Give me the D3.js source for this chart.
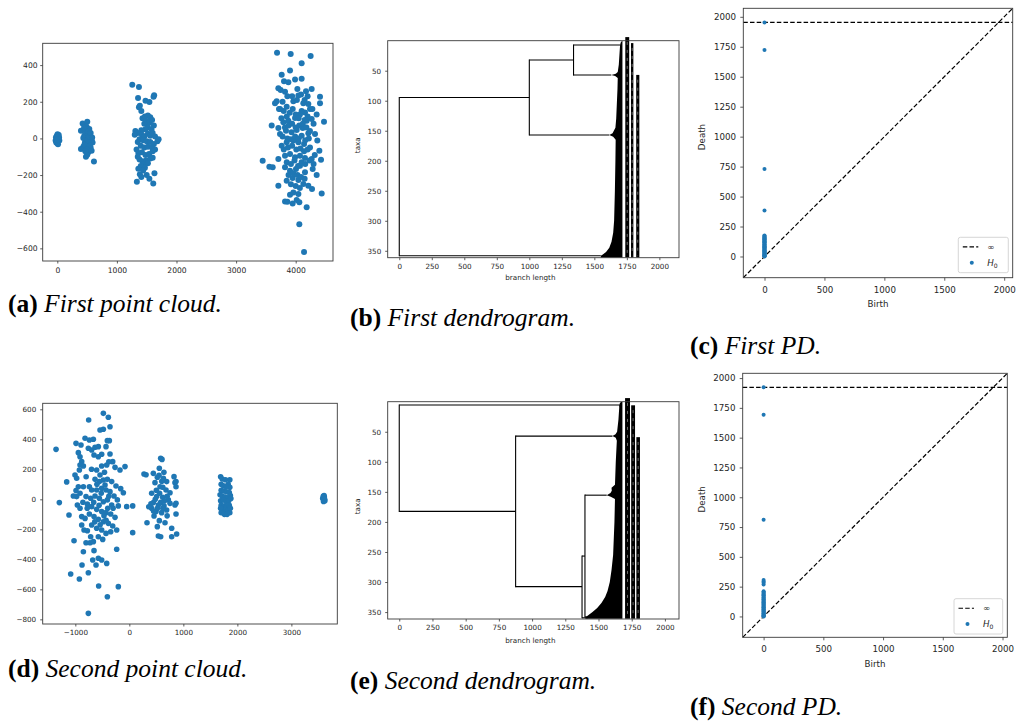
<!DOCTYPE html>
<html>
<head>
<meta charset="utf-8">
<script src="https://cdn.jsdelivr.net/npm/d3@7"></script>
<style>
  body { margin: 0; background: #fff; }
  svg { display: block; }
</style>
</head>
<body>
<svg id="fig" width="1020" height="722"></svg>
<script>
// ---------------------------------------------------------------
// Data
// ---------------------------------------------------------------

// First point cloud: four groups of 2-D points
const cloud1_g0 = [[-28,-12],[-18,-22],[-6,14],[4,22],[18,12],[30,4],[14,-6],[-12,2],[0,-26],[12,-32],[24,18],[-22,6],[34,-12],[6,8],[-4,-8]];
const cloud1_g1 = [[425,82],[503,91],[397,42],[464,46],[503,33],[548,24],[453,15],[520,5],[576,-9],[481,-13],[537,-31],[436,-46],[397,-58],[503,-53],[559,-49],[520,-76],[481,-100],[503,-89],[615,-126],[576,-67],[464,-22],[548,-4],[592,-22],[492,64],[537,51],[436,2],[526,-22],[481,-35],[470,20],[510,-10],[490,30],[530,10],[455,-35],[545,-40],[500,-60],[520,40],[560,30],[585,5],[470,-70],[450,60]];
const cloud1_g2 = [[1258,293],[1370,280],[1355,220],[1480,205],[1545,198],[1615,228],[1625,235],[1370,170],[1410,150],[1385,178],
  [1430,110],[1470,120],[1520,125],[1560,115],[1500,95],[1545,85],[1590,100],[1460,80],[1520,60],[1620,70],[1580,50],[1480,50],[1410,45],[1310,40],[1350,30],[1300,20],[1420,20],[1460,10],[1520,25],[1560,15],[1600,30],[1640,10],[1700,-5],[1680,-15],[1380,-5],[1440,-10],[1500,-15],[1560,-20],[1620,-30],[1350,-20],[1400,-40],[1460,-50],[1520,-45],[1590,-50],[1640,-60],[1330,-60],[1360,-80],[1420,-75],[1480,-90],[1540,-85],[1600,-70],[1350,-100],[1380,-115],[1430,-125],[1490,-120],[1560,-110],[1600,-105],[1450,-140],[1520,-135],[1400,-150],[1470,-160],
  [1360,-165],[1385,-195],[1440,-175],[1545,-220],[1630,-190],[1335,-237],[1610,-246],[1500,-200],[1410,-210]];
const cloud1_g3 = [[3687,467],[3916,461],[4251,450],[4100,410],[3765,348],[3905,370],[3804,312],[3877,306],[3989,321],[4100,325],[3709,274],[3748,264],[3821,255],[4028,270],[4173,257],[4268,270],[4408,228],[4408,192],[4475,91],[3653,192],[3681,203],[3737,161],[3849,173],[3961,203],[4045,234],[4128,192],[4212,188],[4240,161],[4352,130],[3597,70],[3709,57],[3793,88],[3877,97],[3989,111],[4072,130],[4156,142],[4184,97],[4268,106],[3737,24],[3837,42],[3931,33],[4017,46],[4117,57],[4212,28],[4324,24],[4363,-12],[3765,-40],[3849,-21],[3961,-12],[4045,-21],[4140,-30],[4240,-49],[4397,-67],[3709,-112],[3821,-94],[3905,-85],[3989,-103],[4072,-94],[4156,-107],[4268,-112],[4425,-116],[3446,-122],[3558,-154],[3614,-158],[3821,-158],[3905,-176],[4005,-167],[4072,-149],[4156,-185],[4285,-167],[4352,-200],[3709,-258],[3849,-231],[3949,-216],[4045,-227],[4128,-249],[4212,-258],[4274,-276],[4436,-300],[3821,-344],[3860,-346],[3949,-355],[4017,-336],[4061,-349],[4184,-376],[4061,-468],[4140,-620],[3961,-295],[4045,-304],[3905,-307],
  [3800,150],[3850,120],[3900,140],[3950,160],[4000,130],[4050,110],[4100,150],[4150,100],[4200,120],[3820,60],[3880,70],[3940,80],[4000,60],[4060,70],[4120,80],[4180,60],[4240,40],[3780,10],[3860,0],[3920,-5],[3990,10],[4050,0],[4100,15],[4160,-10],[4220,0],[3800,-60],[3870,-50],[3940,-40],[4010,-60],[4080,-55],[4140,-70],[4200,-60],[3850,-130],[3920,-140],[3980,-120],[4040,-150],[4100,-130],[4160,-140],[4230,-120],[3880,-200],[3960,-190],[4030,-200],[4090,-210],[4150,-220],[4000,-260],[4070,-270],[3920,-250],[3860,230],[3940,230],[4020,210],[4090,240],[4150,210],[4200,230],[3780,200],[3760,110],[3720,160],[4300,80],[4280,160],[4320,-90],[4300,-140]];

// Second point cloud: four groups of 2-D points
const cloud2_g0 = [[-1357,333],[-1296,-22],[-1160,116],[-1117,-104],[-1024,-276],[-1086,-498],[-925,-531],[-876,-438],[-851,-349],[-759,-760],[-759,-489],[-753,529],[-481,573],[-389,547],[-358,484],[-407,-649],[-204,-582],[-568,-578],[-234,-333],[-80,218],[-173,195],[-49,-49],[62,-44],[62,-222],[-204,-44],
  [-987,373],[-895,362],[-944,311],[-913,284],[-882,251],[-913,229],[-851,222],[-925,195],[-1006,162],[-975,140],[-944,84],[-851,84],[-913,40],[-962,-38],[-913,-60],[-882,-115],[-820,-127],[-882,-171],[-839,-204],[-777,-209],[-802,-289],[-728,-289],[-716,-249],[-666,-282],[-820,407],[-740,395],[-666,400],[-759,340],[-697,329],[-635,347],[-574,351],[-654,295],[-574,284],[-512,300],[-543,462],[-481,467],[-407,391],[-370,391],[-432,351],[-358,302],[-308,251],[-265,213],[-419,229],[-512,222],[-605,195],[-543,162],[-635,133],[-555,118],[-481,129],[-407,133],[-327,118],[-247,89],[-160,71],[-111,44],[-740,84],[-697,62],[-605,62],[-512,73],[-432,62],[-358,51],[-284,22],[-222,-4],[-802,18],[-716,7],[-635,22],[-555,7],[-481,-16],[-407,-4],[-327,-38],[-777,-31],[-697,-49],[-605,-67],[-512,-82],[-432,-89],[-345,-98],[-265,-120],[-740,-98],[-654,-115],[-574,-133],[-481,-149],[-389,-160],[-308,-178],[-234,-204],[-697,-171],[-605,-193],[-512,-204],[-432,-227],[-345,-216],[-574,-249],[-493,-267],[-654,-342],[-574,-393],[-512,-404],[-419,-427],[-617,-438],[-678,-404],[-975,18],[-987,58],[-1036,22],
  [-600,100],[-520,40],[-450,95],[-380,20],[-660,-20],[-560,-40],[-470,-110],[-400,-60],[-300,-60],[-640,-150],[-540,-170],[-430,-140],[-700,200],[-460,180],[-380,250],[-800,150],[-780,-60],[-860,-20]];
const cloud2_g1 = [[580,273],[605,266],[555,207],[444,173],[518,147],[630,140],[691,118],[845,111],[864,84],[475,111],[568,84],[679,62],[753,44],[413,40],[506,18],[617,13],[722,-4],[845,-38],[444,-22],[537,-38],[642,-44],[753,-27],[413,-60],[494,-82],[598,-89],[691,-71],[864,-98],[457,-111],[555,-142],[660,-156],[518,-182],[784,-193],[876,-231],[784,-249],[537,-244],[580,-249],
  [271,169],[309,164],[327,-156],[864,-27],[864,118],[827,151],[500,60],[560,40],[620,80],[700,20],[650,-10],[580,-20],[520,-60],[620,-60],[700,-110],[480,0],[400,-30],[360,-50],[450,-80],[600,120],[550,160],[640,180]];
const cloud2_g2 = [[1690,150],[1720,135],[1780,130],[1830,100],[1860,80],[1700,100],[1740,90],[1790,85],[1700,60],[1750,55],[1800,50],[1850,45],[1680,30],[1720,20],[1770,15],[1820,10],[1870,25],[1690,-10],[1740,-5],[1790,-15],[1840,-10],[1880,5],[1700,-40],[1750,-45],[1800,-50],[1850,-40],[1720,-70],[1770,-80],[1820,-75],[1700,-90],[1760,-100],[1810,-100],[1860,-90],[1870,-60],[1690,-60],[1860,130]];
const cloud2_g3 = [[3590,20],[3610,15],[3600,-5],[3620,-10],[3580,5],[3605,25],[3595,-15],[3615,0]];

// Dendrogram 1: backbone clades  [name, parent, depth, taxon position]
const tree1Nodes = [
  ["root", null, 0, 226.5],
  ["n1", "root", 1000, 94.7],
  ["n2", "n1", 1340, 32.2],
  ["c1", "n2", 1700, 7.2],
  ["c2", "n2", 1630, 57.2],
  ["c3", "n1", 1615, 157.2],
  ["c4", "root", 1550, 358.3]
];
// left outline of the densely packed terminal clades [taxon, depth]
const tree1Fringe = [[0.5,1712],[3,1703],[7.2,1698],[20,1694],[40,1688],[52,1680],[55,1665],[57.2,1630],[59,1660],[62,1680],[80,1678],[100,1674],[130,1668],[145,1662],[150,1650],[154,1640],[157.2,1615],[160,1645],[165,1664],[200,1662],[250,1658],[300,1652],[320,1645],[335,1632],[345,1615],[352,1590],[356,1565],[358.3,1550],[361,1550]];
const tree1TipDepth = 1716;
// leaf-label bands [from depth, to depth, first taxon, last taxon]
const tree1Labels = [[1738,1768,-6,361],[1782,1800,4,361],[1822,1846,57,361]];

// Dendrogram 2
const tree2Nodes = [
  ["root", null, 0, 94],
  ["c1", "root", 1655, 5.5],
  ["n1", "root", 876, 182.4],
  ["c2", "n1", 1605, 57.2],
  ["n2", "n1", 1376, 307.6],
  ["n3", "n2", 1398, 256.8],
  ["c3", "n3", 1562, 155.5],
  ["c5", "n3", 1450, 358],
  ["c4", "n2", 1420, 359.5]
];
const tree2Fringe = [[0.5,1668],[3,1660],[5.5,1655],[10,1656],[30,1650],[50,1640],[54,1628],[57.2,1605],[60,1630],[65,1638],[100,1630],[138,1624],[143,1598],[148,1600],[152,1590],[155.5,1562],[158,1592],[162,1624],[200,1620],[255,1610],[280,1598],[300,1585],[315,1568],[325,1550],[335,1522],[343,1490],[350,1455],[355,1425],[358,1405],[361,1400]];
const tree2TipDepth = 1680;
const tree2Labels = [[1700,1737,-6,361],[1746,1775,6,361],[1785,1812,59,361]];

// Persistence diagrams (H0): every class is born at 0
const pd1Infinite = 1953;
const pd1Deaths = [1723,730,383,175,171,164,160,153,149,144,137,133,128,121,118,112,107,101,97,92,86,81,77,72,66,63,57,52,48,43,38,33,29,24,19,15,11,7,4,1,0];
const pd2Infinite = 1922;
const pd2Deaths = [1692,812,305,293,282,268,212,205,198,190,184,177,171,163,158,150,144,137,131,126,119,113,108,101,95,90,84,77,72,66,60,55,49,43,38,32,27,21,16,11,6,2,0];

// Tick values
const cloud1XTicks = [0,1000,2000,3000,4000];
const cloud1YTicks = [-600,-400,-200,0,200,400];
const cloud2XTicks = [-1000,0,1000,2000,3000];
const cloud2YTicks = [-800,-600,-400,-200,0,200,400,600];
const treeXTicks = [0,250,500,750,1000,1250,1500,1750,2000];
const treeYTicks = [50,100,150,200,250,300,350];
const pdTicks = [0,500,1000,1500,2000];
const pdYTicks = [0,250,500,750,1000,1250,1500,1750,2000];

// ---------------------------------------------------------------
// Drawing helpers
// ---------------------------------------------------------------
const svg = d3.select("#fig");
const BLUE = "#1f77b4";
const FONT = "DejaVu Sans";
const fmt = d3.format("d");

function drawAxes(x, y, box, o) {
  const gx = svg.append("g")
    .attr("transform", `translate(0,${box.y1})`)
    .call(d3.axisBottom(x).tickValues(o.xTicks).tickSizeInner(o.tick).tickSizeOuter(0)
      .tickPadding(o.xPad).tickFormat(fmt));
  gx.select(".domain").remove();
  gx.attr("font-size", o.fs).attr("font-family", FONT);
  gx.selectAll(".tick line").attr("stroke", "#333").attr("stroke-width", 0.8);
  gx.selectAll(".tick text").attr("fill", "#262626");

  const gy = svg.append("g")
    .attr("transform", `translate(${box.x0},0)`)
    .call(d3.axisLeft(y).tickValues(o.yTicks).tickSizeInner(o.tick).tickSizeOuter(0)
      .tickPadding(o.yPad).tickFormat(fmt));
  gy.select(".domain").remove();
  gy.attr("font-size", o.fs).attr("font-family", FONT);
  gy.selectAll(".tick line").attr("stroke", "#333").attr("stroke-width", 0.8);
  gy.selectAll(".tick text").attr("fill", "#262626");

  svg.append("rect")
    .attr("x", box.x0).attr("y", box.y0)
    .attr("width", box.x1 - box.x0).attr("height", box.y1 - box.y0)
    .attr("fill", "none").attr("stroke", "#3a3a3a").attr("stroke-width", 0.9);
}

function axisLabel(text, cx, cy, fs, rotate) {
  svg.append("text")
    .attr("transform", `translate(${cx},${cy})` + (rotate ? " rotate(-90)" : ""))
    .attr("text-anchor", "middle").attr("dominant-baseline", "central")
    .attr("font-family", FONT).attr("font-size", fs).attr("fill", "#262626")
    .text(text);
}

function caption(x, y, tag, title) {
  const t = svg.append("text")
    .attr("x", x).attr("y", y)
    .attr("font-family", "Liberation Serif, 'Times New Roman', serif")
    .attr("font-size", 25.5).attr("fill", "#000")
    .style("white-space", "pre");
  t.append("tspan").attr("font-weight", "bold").text(tag);
  t.append("tspan").attr("font-style", "italic").text(" " + title);
}

function scatterPanel(groups, box, xDom, yDom, xTicks, yTicks, r, o) {
  const x = d3.scaleLinear().domain(xDom).range([box.x0, box.x1]);
  const y = d3.scaleLinear().domain(yDom).range([box.y1, box.y0]);
  const pts = groups.flat();
  svg.append("g").selectAll("circle").data(pts).join("circle")
    .attr("cx", d => x(d[0])).attr("cy", d => y(d[1])).attr("r", r)
    .attr("fill", BLUE);
  drawAxes(x, y, box, Object.assign({xTicks, yTicks}, o));
}

function treePanel(nodes, fringe, tipDepth, labels, box, xDom, o) {
  const x = d3.scaleLinear().domain(xDom).range([box.x0, box.x1]);
  const y = d3.scaleLinear().domain([0, 361.5]).range([box.y0, box.y1]);
  const byName = new Map(nodes.map(n => [n[0], n]));
  const g = svg.append("g");

  // packed terminal clades, drawn as a solid mass
  const area = d3.area().y(d => y(d[0])).x0(d => x(d[1])).x1(x(tipDepth));
  g.append("path").datum(fringe).attr("d", area).attr("fill", "#000");

  // leaf-label bands
  g.selectAll("rect.lab").data(labels).join("rect").attr("class", "lab")
    .attr("x", d => x(d[0])).attr("width", d => x(d[1]) - x(d[0]))
    .attr("y", d => y(d[2])).attr("height", d => y(d[3]) - y(d[2]))
    .attr("fill", "#000");
  g.selectAll("line.lab").data(labels).join("line").attr("class", "lab")
    .attr("x1", d => x((d[0] + d[1]) / 2)).attr("x2", d => x((d[0] + d[1]) / 2))
    .attr("y1", d => y(d[2] + 8)).attr("y2", d => y(d[3] - 2))
    .attr("stroke", "#fff").attr("stroke-width", 0.6).attr("stroke-dasharray", "3,5")
    .attr("opacity", 0.7);

  // horizontal branches
  const edges = nodes.filter(n => n[1] !== null);
  g.selectAll("line.h").data(edges).join("line").attr("class", "h")
    .attr("x1", d => x(byName.get(d[1])[2])).attr("x2", d => x(d[2]))
    .attr("y1", d => y(d[3])).attr("y2", d => y(d[3]))
    .attr("stroke", "#000").attr("stroke-width", 1.1);
  // vertical connectors at each internal clade
  const internal = nodes.filter(n => nodes.some(c => c[1] === n[0]));
  g.selectAll("line.v").data(internal).join("line").attr("class", "v")
    .attr("x1", d => x(d[2])).attr("x2", d => x(d[2]))
    .attr("y1", d => y(d3.min(nodes.filter(c => c[1] === d[0]), c => c[3])))
    .attr("y2", d => y(d3.max(nodes.filter(c => c[1] === d[0]), c => c[3])))
    .attr("stroke", "#000").attr("stroke-width", 1.1).attr("stroke-linecap", "square");

  drawAxes(x, y, box, Object.assign({xTicks: treeXTicks, yTicks: treeYTicks}, o));
  axisLabel("branch length", (box.x0 + box.x1) / 2 - 3, o.xLabelY, o.fs, false);
  axisLabel("taxa", o.yLabelX, (box.y0 + box.y1) / 2 - 4, o.fs, true);
}

function pdPanel(deaths, inf, box, dom, o) {
  const x = d3.scaleLinear().domain(dom).range([box.x0, box.x1]);
  const y = d3.scaleLinear().domain(dom).range([box.y1, box.y0]);
  const g = svg.append("g");
  g.append("line")
    .attr("x1", x(dom[0])).attr("y1", y(dom[0])).attr("x2", x(dom[1])).attr("y2", y(dom[1]))
    .attr("stroke", "#000").attr("stroke-width", 1.2).attr("stroke-dasharray", "4.5,2.2");
  g.append("line")
    .attr("x1", x(dom[0])).attr("x2", x(dom[1])).attr("y1", y(inf)).attr("y2", y(inf))
    .attr("stroke", "#000").attr("stroke-width", 1.2).attr("stroke-dasharray", "4.5,2.2");
  g.selectAll("circle").data(deaths.concat([inf])).join("circle")
    .attr("cx", x(0)).attr("cy", d => y(d)).attr("r", 2).attr("fill", BLUE);

  drawAxes(x, y, box, Object.assign({xTicks: pdTicks, yTicks: pdYTicks}, o));
  axisLabel("Death", o.deathX, (box.y0 + box.y1) / 2 - 6, o.fs, true);
  axisLabel("Birth", (box.x0 + box.x1) / 2, o.birthY, o.fs, false);

  // legend
  const lg = o.legend;
  svg.append("rect").attr("x", lg.x).attr("y", lg.y).attr("width", lg.w).attr("height", lg.h)
    .attr("rx", 2).attr("fill", "#fff").attr("fill-opacity", 0.8)
    .attr("stroke", "#cccccc").attr("stroke-width", 0.8);
  svg.append("line").attr("x1", lg.x + 4.5).attr("x2", lg.x + 20).attr("y1", lg.y + lg.h * 0.27).attr("y2", lg.y + lg.h * 0.27)
    .attr("stroke", "#000").attr("stroke-width", 1.2).attr("stroke-dasharray", "4.5,2.2");
  svg.append("text").attr("x", lg.x + 29).attr("y", lg.y + lg.h * 0.27)
    .attr("dominant-baseline", "central").attr("font-family", FONT).attr("font-size", o.fs).attr("fill", "#262626")
    .text("\u221E");
  svg.append("circle").attr("cx", lg.x + 13.5).attr("cy", lg.y + lg.h * 0.72).attr("r", 2).attr("fill", BLUE);
  const h = svg.append("text").attr("x", lg.x + 29).attr("y", lg.y + lg.h * 0.72)
    .attr("dominant-baseline", "central").attr("font-family", FONT).attr("font-size", o.fs).attr("fill", "#262626");
  h.append("tspan").attr("font-style", "italic").text("H");
  h.append("tspan").attr("font-size", o.fs * 0.7).attr("dy", 2).text("0");
}

// ---------------------------------------------------------------
// Panels
// ---------------------------------------------------------------
// (a) first point cloud
scatterPanel([cloud1_g0, cloud1_g1, cloud1_g2, cloud1_g3],
  {x0: 42.7, x1: 333, y0: 43.3, y1: 261},
  [-245, 4626], [-669, 519], cloud1XTicks, cloud1YTicks, 3,
  {fs: 7.6, tick: 2.5, xPad: 4.6, yPad: 2.6});

// (b) first dendrogram
treePanel(tree1Nodes, tree1Fringe, tree1TipDepth, tree1Labels,
  {x0: 387.7, x1: 679, y0: 40.7, y1: 257.7}, [-89, 2151],
  {fs: 7.2, tick: 2.5, xPad: 3.3, yPad: 4, xLabelY: 277, yLabelX: 357});

// (c) first persistence diagram
pdPanel(pd1Deaths, pd1Infinite,
  {x0: 743.3, x1: 1012.7, y0: 8.3, y1: 277.7}, [-177, 2071],
  {fs: 8.7, tick: 3, xPad: 6, yPad: 4.3, deathX: 701.7, birthY: 304,
   legend: {x: 958.3, y: 237.3, w: 50, h: 35.4}});

// (d) second point cloud
scatterPanel([cloud2_g0, cloud2_g1, cloud2_g2, cloud2_g3],
  {x0: 42.7, x1: 337.3, y0: 403.3, y1: 624},
  [-1604, 3850], [-831, 640], cloud2XTicks, cloud2YTicks, 2.8,
  {fs: 7.2, tick: 2.5, xPad: 3.6, yPad: 4});

// (e) second dendrogram
treePanel(tree2Nodes, tree2Fringe, tree2TipDepth, tree2Labels,
  {x0: 387.7, x1: 679, y0: 401.7, y1: 619}, [-87, 2106],
  {fs: 7.2, tick: 2.5, xPad: 3.3, yPad: 4, xLabelY: 640, yLabelX: 357});

// (f) second persistence diagram
pdPanel(pd2Deaths, pd2Infinite,
  {x0: 742.7, x1: 1007.3, y0: 373.3, y1: 637.3}, [-175, 2040],
  {fs: 8.7, tick: 3, xPad: 6, yPad: 4.3, deathX: 701.7, birthY: 664,
   legend: {x: 954, y: 598.7, w: 48.7, h: 35.3}});

// sub-figure captions
caption(8, 312, "(a)", "First point cloud.");
caption(350, 326, "(b)", "First dendrogram.");
caption(690, 354, "(c)", "First PD.");
caption(8, 677, "(d)", "Second point cloud.");
caption(350, 689, "(e)", "Second dendrogram.");
caption(690, 715, "(f)", "Second PD.");
</script>
</body>
</html>
